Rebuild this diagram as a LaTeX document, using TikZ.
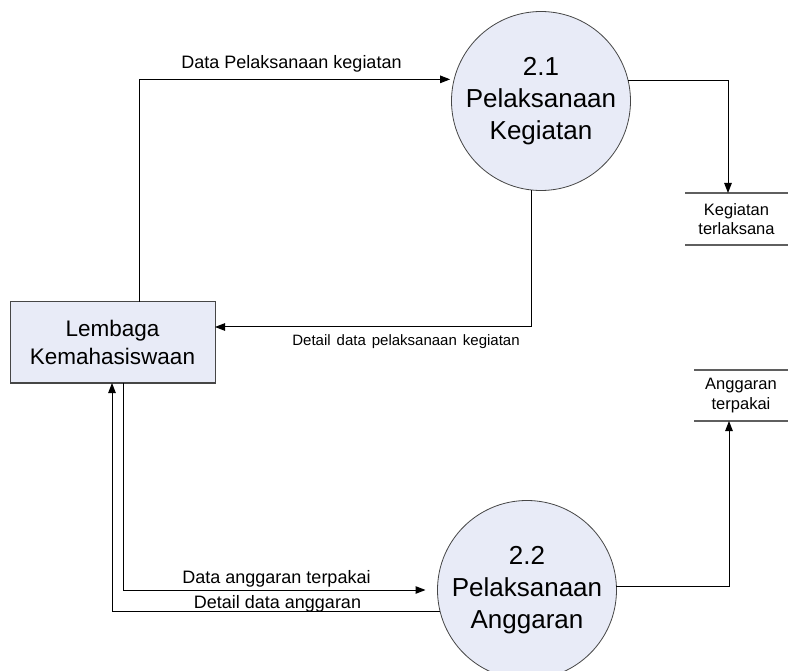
\documentclass[tikz,border=0pt]{standalone}
\usepackage{fontspec}
\setmainfont{Liberation Sans}
\usetikzlibrary{arrows.meta}
\definecolor{procfill}{RGB}{232,235,247}
\definecolor{edgegray}{RGB}{70,70,70}
\definecolor{storegray}{RGB}{95,95,95}
\tikzset{
  proc/.style={circle, draw=edgegray, line width=0.8pt, fill=procfill,
    minimum size=179pt, inner sep=0pt, outer sep=0pt, align=center,
    font=\fontsize{26pt}{31.7pt}\selectfont},
  ent/.style={rectangle, draw=edgegray, line width=1pt, fill=procfill,
    minimum width=205pt, minimum height=81pt, inner sep=0pt, outer sep=0pt,
    align=center, font=\fontsize{22.5pt}{28pt}\selectfont},
  store/.style={inner sep=0pt, outer sep=0pt, align=center,
    font=\fontsize{16.5pt}{19.5pt}\selectfont},
  storeline/.style={draw=storegray, line width=1.4pt},
  flow/.style={draw=black, line width=1pt, -{Triangle[length=10pt,width=7.5pt]}},
  lab/.style={inner sep=0pt, anchor=base, font=\fontsize{18pt}{21pt}\selectfont},
  labsmall/.style={inner sep=0pt, anchor=base, font=\fontsize{15pt}{17pt}\selectfont}
}
\begin{document}
\begin{tikzpicture}[x=1pt,y=-1pt]
\useasboundingbox (0,0) rectangle (788,671);
\fill[white] (0,0) rectangle (788,671);

% processes and entity
\node[proc] (p1) at (541,101) {2.1\\Pelaksanaan\\Kegiatan};
\node[proc] (p2) at (527,590) {2.2\\Pelaksanaan\\Anggaran};
\node[ent] (le) at (112.5,342.5) {Lembaga\\Kemahasiswaan};

% data stores
\node[store, minimum width=103pt, minimum height=52pt] (s1) at (736.5,219) {Kegiatan\\terlaksana};
\draw[storeline] (s1.north west) -- (s1.north east) (s1.south west) -- (s1.south east);
\node[store, minimum width=94pt, minimum height=51pt] (s2) at (741,395.5) {Anggaran\\terpakai};
\draw[storeline] (s2.north west) -- (s2.north east) (s2.south west) -- (s2.south east);

% flows
\draw[flow, shorten >=4pt] ([xshift=26.5pt]le.north) |- (p1.166.4);
\draw[flow] (p1.13.6) -| ([xshift=-8.5pt]s1.north);
\draw[flow] (p1.264.9) |- ([yshift=15.5pt]le.east);
\draw[flow, shorten >=12pt] ([xshift=10.5pt]le.south) |- (p2.west);
\draw[flow] (p2.194.8) -| ([xshift=-0.5pt]le.south);
\draw[flow] (p2.2.5) -| ([xshift=-12pt]s2.south);

% labels
\node[lab] (l1) at (291.5,69) {Data Pelaksanaan kegiatan};
\node[labsmall] (l2) at (406,346) {\spaceskip=6pt\relax Detail data pelaksanaan kegiatan};
\node[lab] (l3) at (276.5,583) {Data anggaran terpakai};
\node[lab] (l4) at (277.5,608) {Detail data anggaran};
\end{tikzpicture}
\end{document}
